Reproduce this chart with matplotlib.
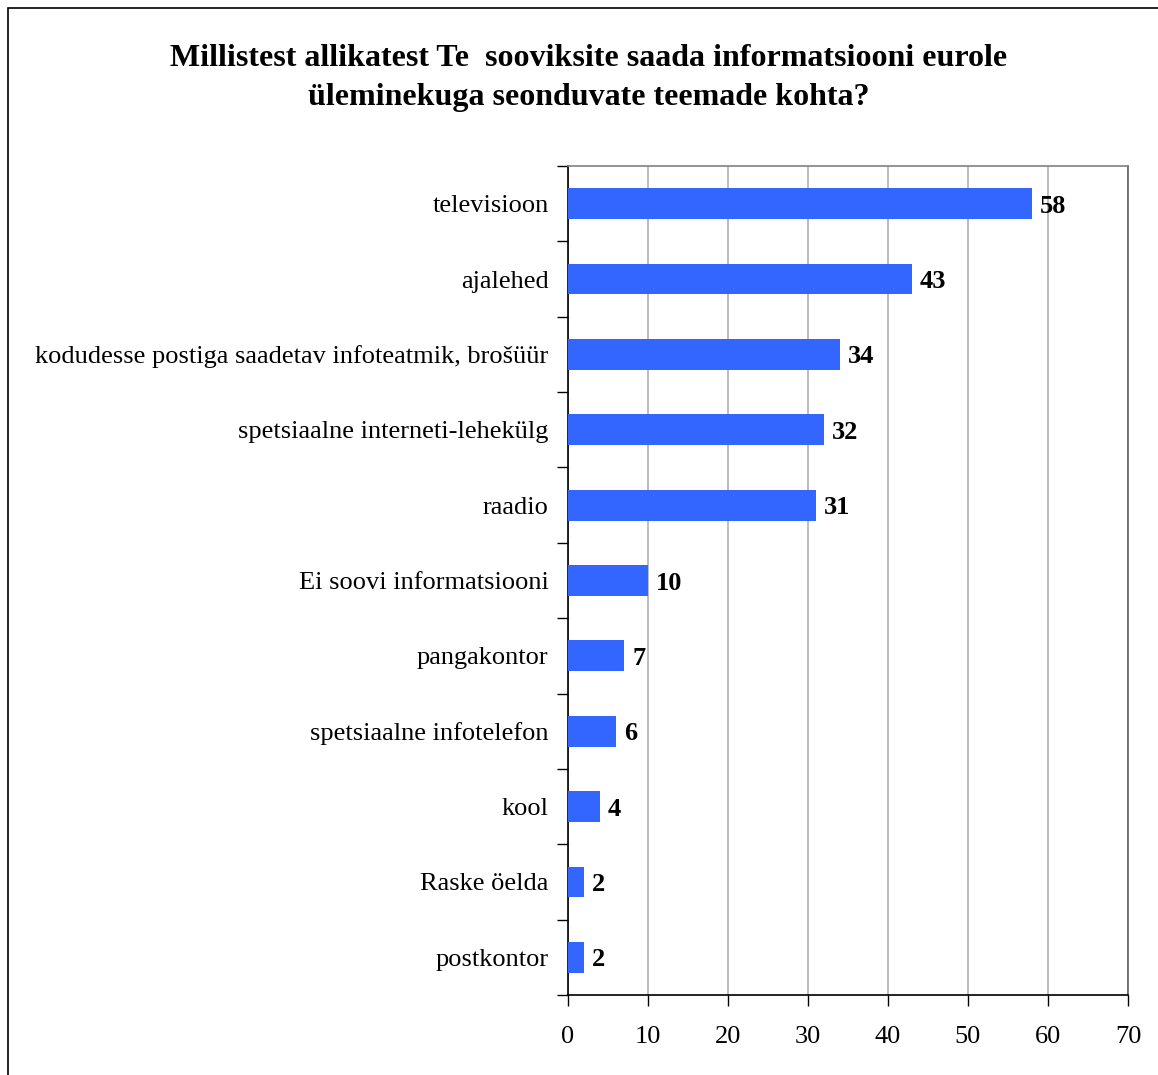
import matplotlib
matplotlib.use("Agg")
import matplotlib.pyplot as plt
from matplotlib.patches import Rectangle
import numpy as np

plt.rcParams['font.family'] = ['Liberation Serif', 'DejaVu Serif']

categories = ["televisioon", "ajalehed",
              "kodudesse postiga saadetav infoteatmik, brošüür",
              "spetsiaalne interneti-lehekülg", "raadio",
              "Ei soovi informatsiooni", "pangakontor",
              "spetsiaalne infotelefon", "kool", "Raske öelda", "postkontor"]
values = [58, 43, 34, 32, 31, 10, 7, 6, 4, 2, 2]
xticks = [0, 10, 20, 30, 40, 50, 60, 70]
title = "Millistest allikatest Te  sooviksite saada informatsiooni eurole\nüleminekuga seonduvate teemade kohta?"

W, H = 1158, 1075
fig = plt.figure(figsize=(W / 100, H / 100), dpi=100)
fig.patch.set_facecolor("white")

# outer frame
fig.add_artist(Rectangle((8 / W, -0.01), 1.05, 1 - 8 / H + 0.01,
                         transform=fig.transFigure, fill=False,
                         edgecolor="black", linewidth=1.2))

left, right, top, bottom = 568, 1128, 166, 995
ax = fig.add_axes([left / W, 1 - bottom / H, (right - left) / W, (bottom - top) / H])

n = len(categories)
y = np.arange(n)
ax.barh(y, values, height=0.41, color="#3366FF", zorder=3)
ax.set_ylim(n - 0.5, -0.5)
ax.set_xlim(0, 70)

for yi, v in zip(y, values):
    ax.text(v + 1.0, yi, str(v), va="center_baseline", ha="left", fontsize=19,
            fontweight="bold", color="black")

ax.set_xticks(xticks)
ax.set_xticklabels([str(t) for t in xticks], fontsize=19)
ax.set_yticks(y)
ax.set_yticklabels(categories, fontsize=19, va="center_baseline")
ax.tick_params(axis="y", which="major", length=0, pad=14)
ax.set_yticks(np.arange(-0.5, n, 1.0), minor=True)
ax.tick_params(axis="y", which="minor", length=8, width=1, direction="out")
ax.tick_params(axis="x", length=8, width=1, direction="out", pad=14)

ax.xaxis.grid(True, color="#b0b0b0", linewidth=1.2, zorder=0)
ax.set_axisbelow(True)
for s in ["left", "bottom"]:
    ax.spines[s].set_color("black")
    ax.spines[s].set_linewidth(1.2)
ax.spines["top"].set_color("#808080")
ax.spines["top"].set_linewidth(1.2)
ax.spines["right"].set_color("#606060")
ax.spines["right"].set_linewidth(1.2)

fig.text(0.508, 1 - 78 / H, title, ha="center", va="center", fontsize=23,
         fontweight="bold", linespacing=1.5)

fig.savefig("out.png", dpi=100, facecolor="white")
